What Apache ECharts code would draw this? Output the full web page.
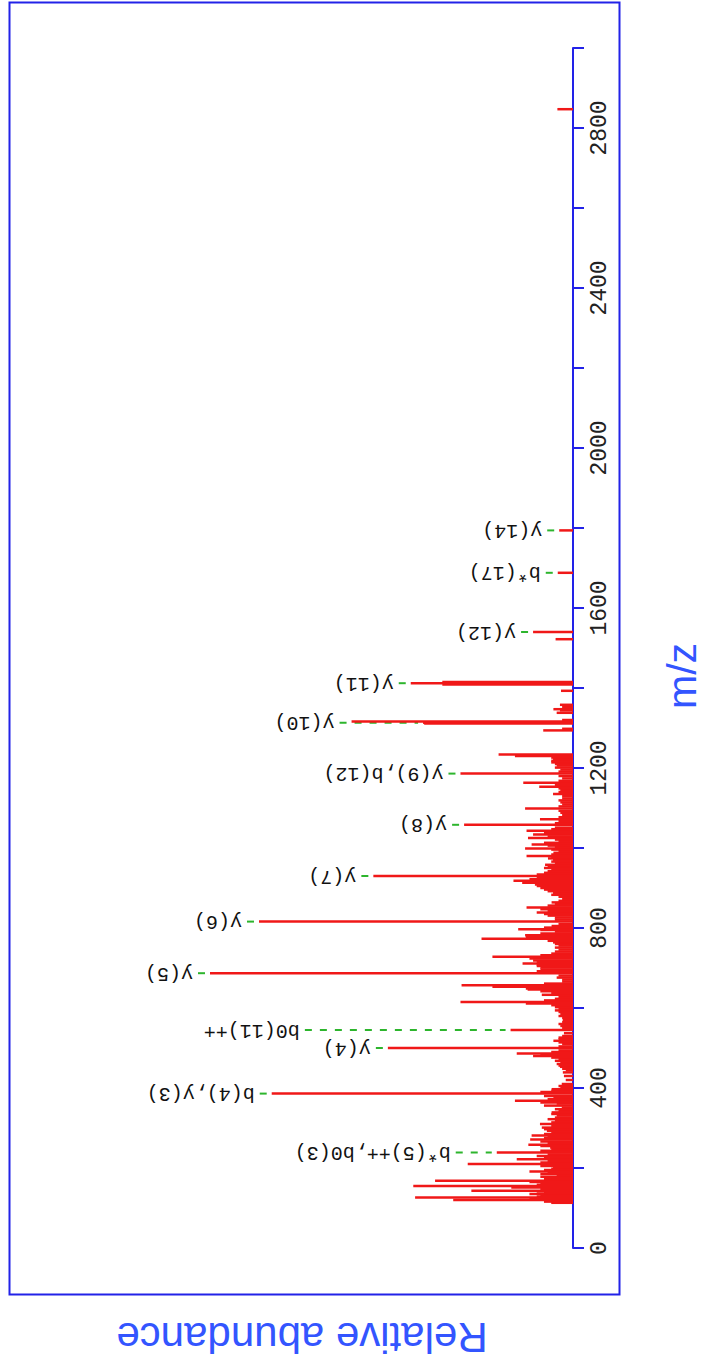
<!DOCTYPE html>
<html>
<head>
<meta charset="utf-8">
<script src="https://cdn.jsdelivr.net/npm/echarts@6/dist/echarts.min.js"></script>
<style>
html,body{margin:0;padding:0;background:#fff;overflow:hidden;width:704px;height:1367px;}
#chart{position:absolute;left:0;top:1367px;width:1367px;height:704px;transform-origin:0 0;transform:rotate(-90deg);}
</style>
</head>
<body>
<div id="chart"></div>
<script>
// ---- data (m/z, relative abundance %) ----
const peakMz = [
113,116,120,123,126,129,132,135,138,141,143,147,151,155,158,162,165,168,172,175,
178,181,185,188,191,195,198,201,205,210,214,218,222,226,230,234,239,243,247,251,
255,258,262,266,271,275,278,281,285,289,293,297,301,305,310,314,318,322,326,331,
335,339,343,347,351,356,361,364,368,372,376,380,386,390,393,397,402,405,410,420,
430,439,444,448,453,456,460,464,468,472,476,480,483,486,490,494,500,504,510,514,
518,522,526,530,537,545,550,555,560,565,570,575,580,585,590,594,597,602,607,611,
615,619,623,627,633,637,642,646,649,653,657,661,666,671,676,681,687,692,696,701,
705,708,711,715,719,724,728,732,736,741,746,751,756,760,764,768,773,777,782,786,
791,795,797,801,805,810,816,821,826,831,835,839,843,847,851,856,860,864,868,873,
878,883,888,892,896,900,905,909,913,918,922,926,930,934,938,942,946,950,954,958,
962,966,970,974,978,980,984,988,992,996,999,1003,1006,1009,1013,1017,1021,1025,1029,1034,
1038,1043,1047,1051,1058,1062,1067,1072,1077,1082,1088,1093,1099,1104,1109,1114,1119,1124,1130,1135,
1140,1145,1149,1153,1158,1163,1168,1174,1180,1186,1191,1196,1201,1206,1210,1214,1218,1222,1226,1230,
1234,1294,1298,1311,1313,1316,1320,1338,1344,1347,1352,1358,1393,1409,1412,1415,1522,1540,1688,1794,
2847
];
const peakInt = [
6,8,33,12,43.5,10,9,12,8,10,28,9,17,44,10,9,12,38,8,6,
9,4.5,9,7,12,8,6,5.5,9,29,9,7,15.5,8,10,7,21,9,6,6.3,
9,12.3,7,9,11.8,8,7,11.4,8,6,7.2,8,8.6,6,9.1,6,5,7,5,4.5,
6,5.9,4,5,3.1,8,4.5,9,16,7,5.4,8,83,9,6,5.9,3.5,4,3.1,2,
2.5,2.8,2,3,3.6,4,4.5,3.5,5,4,6,11,9,15.5,6,4,51,4,3,4,
5.4,4,4,3,2.5,17.2,3,3.5,4,3,2.8,3,4,3.5,4,5,4,5,6,13,
31,8,5,4,8.6,6,9,12.5,13,22.2,30.7,8,3,3,4.5,4,100,10,9,9,
10,10,13.9,10,11,12,22.2,9,6,5,4,5,4,5,5.5,7,25.2,13,13.2,9,
5,9,15.1,8,5.9,4,86.5,5,5,7,8,10,7,9,12.8,7,5,5.9,4,3,
4,6,5.5,7,8,9,10,10.5,14,16.4,12,10,55,10,8,7,6,8,7,7.7,
5,6,5.5,6.9,6,12.8,6,5.4,4,6,13.2,5,7,11.4,8,4,5,12.4,7,11,
8,12.8,6,5,30,5,4,9.1,4,3,3.5,4,13.2,4,3,3.5,4,3,3,5.5,
4,3.5,4,9.3,5,13.7,4,3,4,31,4,3.5,5,4.5,5,6,6,5.5,6,16,
20.5,8.2,3,41,41.3,61,3,4.5,3.6,5.4,3,3.6,3.3,36,44.7,36,4.8,11,4.2,3.8,
4.3
];
// labelled fragment ions
const ionMz   = [239, 386, 500, 545, 687, 816, 930, 1058, 1186, 1313, 1412, 1540, 1688, 1794];
const ionName = ['b*(5)++,b0(3)', 'b(4),y(3)', 'y(4)', 'b0(11)++', 'y(5)', 'y(6)', 'y(7)', 'y(8)',
                 'y(9),b(12)', 'y(10)', 'y(11)', 'y(12)', 'b*(17)', 'y(14)'];
const mzTicks = [0, 400, 800, 1200, 1600, 2000, 2400, 2800];

// ---- chart ----
const chart = echarts.init(document.getElementById('chart'), null, {renderer: 'svg', width: 1367, height: 704});
const BLUE = '#2222e8';
const GREEN = '#2db52d';
const LABEL_FONT = '20px "Liberation Mono", "DejaVu Sans Mono", monospace';
const CHAR_W = 12;

function ownInt(mz) {
  const i = peakMz.indexOf(mz);
  return i >= 0 ? peakInt[i] : 0;
}

function layoutLabels(api) {
  const placed = [];
  for (let i = 0; i < ionMz.length; i++) {
    const p = api.coord([ionMz[i], ownInt(ionMz[i])]);
    const u = p[0], vOwn = p[1];
    let minV = vOwn;
    for (let j = 0; j < peakMz.length; j++) {
      const q = api.coord([peakMz[j], peakInt[j]]);
      if (Math.abs(q[0] - u) <= 20 && q[1] < minV) minV = q[1];
    }
    let start = minV - 17;
    const len = ionName[i].length * CHAR_W;
    let moved = true;
    while (moved) {
      moved = false;
      for (const k of placed) {
        if (Math.abs(k.u - u) < 22) {
          const a0 = start - len, a1 = start, b0 = k.start - k.len, b1 = k.start;
          if (a0 < b1 && b0 < a1) { start = b0 - 23; moved = true; }
        }
      }
    }
    placed.push({u: u, vOwn: vOwn, start: start, len: len});
  }
  return placed;
}

const option = {
  animation: false,
  backgroundColor: '#ffffff',
  grid: {left: 119, right: 48, top: 210, bottom: 131, containLabel: false},
  xAxis: {
    type: 'value', min: 0, max: 3000, interval: 200,
    axisLine: {show: true, onZero: false, lineStyle: {color: BLUE, width: 2}},
    axisTick: {show: true, length: 11, lineStyle: {color: BLUE, width: 2}},
    axisLabel: {
      margin: 15, color: '#222', fontFamily: '"Liberation Mono", monospace', fontSize: 23,
      formatter: function (v) { return mzTicks.indexOf(v) >= 0 ? String(v) : ''; }
    },
    splitLine: {show: false}
  },
  yAxis: {type: 'value', min: 0, max: 100, show: false},
  series: [
    {
      type: 'bar',
      data: peakMz.map(function (m, i) { return [m, peakInt[i]]; }),
      barWidth: 2.5,
      itemStyle: {color: '#f01818'},
      silent: true
    },
    {
      type: 'custom',
      coordinateSystem: 'cartesian2d',
      clip: false,
      silent: true,
      data: ionMz.map(function (m, i) { return [m, ownInt(m), i]; }),
      renderItem: function (params, api) {
        const lay = layoutLabels(api);
        const i = api.value(2);
        const L = lay[i];
        const children = [];
        const y1 = L.start + 5, y2 = L.vOwn - 5;
        if (y2 > y1) {
          children.push({
            type: 'line',
            shape: {x1: L.u, y1: y1, x2: L.u, y2: y2},
            style: {stroke: GREEN, lineWidth: 2, lineDash: [7, 8]}
          });
        }
        children.push({
          type: 'text',
          x: L.u, y: L.start,
          rotation: Math.PI / 2,
          style: {text: ionName[i], fill: '#111', font: LABEL_FONT, align: 'left', verticalAlign: 'middle'}
        });
        return {type: 'group', children: children};
      }
    }
  ],
  graphic: [
    {type: 'rect', left: 70, top: 7, shape: {x: 0, y: 0, width: 1292, height: 610},
     style: {fill: 'none', stroke: BLUE, lineWidth: 2}, silent: true},
    {type: 'text', x: 691, y: 682, style: {text: 'm/z', fill: '#3355ff',
     font: '41px "Liberation Sans", Arial, sans-serif', align: 'center', verticalAlign: 'middle'}},
    {type: 'text', x: 30, y: 302, rotation: Math.PI / 2, style: {text: 'Relative abundance', fill: '#3355ff',
     font: '42px "Liberation Sans", Arial, sans-serif', align: 'center', verticalAlign: 'middle'}}
  ]
};
chart.setOption(option);
</script>
</body>
</html>
